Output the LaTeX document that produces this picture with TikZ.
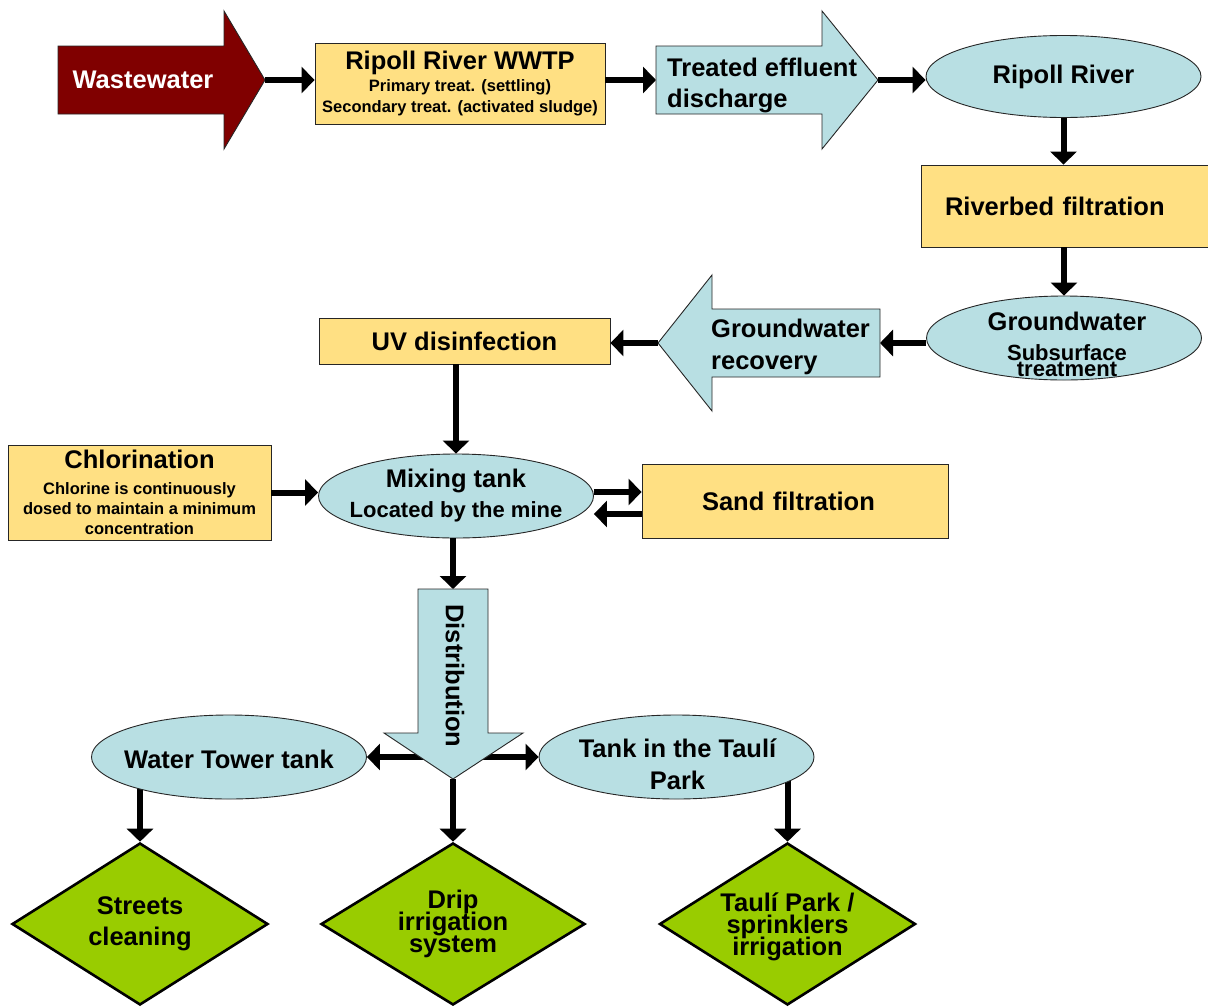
\documentclass[tikz,border=0pt]{standalone}
\usepackage{fontspec}
\setmainfont{Liberation Sans}
\usetikzlibrary{arrows.meta,shapes.geometric,backgrounds}
\definecolor{wasteRed}{RGB}{128,0,0}
\definecolor{waterBlue}{RGB}{184,223,227}
\definecolor{stepYellow}{RGB}{255,224,131}
\definecolor{useGreen}{RGB}{153,204,0}

\begin{document}
\lineskiplimit=-100pt
\begin{tikzpicture}[x=1pt, y=-1pt,
    box/.style={draw=black!85, line width=0.9pt, fill=stepYellow, align=center, inner sep=0pt,
                font=\fontsize{25.5}{30}\selectfont\bfseries},
    tank/.style={ellipse, draw=black!85, line width=0.9pt, fill=waterBlue, inner sep=0pt,
                 minimum width=275pt, minimum height=84pt},
    txt/.style={align=center, inner sep=0pt, font=\fontsize{25.5}{31}\selectfont\bfseries},
    flow/.style={draw=black!85, line width=0.9pt, fill=waterBlue},
    use/.style={diamond, aspect=1.58, draw, line width=2.6pt, fill=useGreen, inner sep=0pt,
                minimum width=256pt, minimum height=162pt, align=center,
                font=\fontsize{25.5}{22}\selectfont\bfseries},
    arr/.style={-{Triangle[length=13pt,width=26pt]}, line width=6pt}
]
\path[use as bounding box] (0,0) rectangle (1208,1007);

\draw[flow, fill=wasteRed] (58,46) -- (224,46) -- (224,11) -- (265,80) -- (224,149) -- (224,114) -- (58,114) -- cycle;
\coordinate (waste tip) at (265,80);
\node[txt, text=white] (waste text) at (143,80) {Wastewater};

\node[box, minimum width=290pt, minimum height=81pt, font=\fontsize{16.5}{21}\selectfont\bfseries] (wwtp) at (460,83.5)
    {{\fontsize{25.5}{30}\selectfont Ripoll River WWTP}\\[1pt] Primary treat. (settling)\\ Secondary treat. (activated sludge)};

\draw[flow] (656,46) -- (822,46) -- (822,11) -- (878,80) -- (822,149) -- (822,114) -- (656,114) -- cycle;
\coordinate (eff tail) at (656,80);
\coordinate (eff tip) at (878,80);
\node[txt, align=left, anchor=west] (eff text) at (667,85) {Treated effluent\\ discharge};

\node[tank, minimum height=82pt] (river) at (1063.5,76.5) {};
\node[txt] (river text) at (river) {Ripoll River};

\node[box, text width=252pt, align=left, inner xsep=24pt, minimum height=82pt] (bed) at (1071,206) {Riverbed filtration};

\node[tank] (gw) at (1064,338) {};
\node[txt, font=\fontsize{22}{16}\selectfont\bfseries] (gw text) at ([xshift=3pt,yshift=-6pt]gw.center)
    {{\fontsize{25.5}{30}\selectfont Groundwater}\\[14pt] Subsurface\\ treatment};

\draw[flow] (880,309) -- (712,309) -- (712,275) -- (658,343) -- (712,411) -- (712,377) -- (880,377) -- cycle;
\coordinate (rec tail) at (880,343);
\coordinate (rec tip) at (658,343);
\node[txt, align=left, anchor=west, font=\fontsize{25.5}{32}\selectfont\bfseries] (rec text) at (711,347) {Groundwater\\ recovery};

\node[box, minimum width=291pt, minimum height=46pt] (uv) at (464.5,341) {UV disinfection};

\node[tank] (mix) at (456,496) {};
\node[txt, font=\fontsize{22}{30}\selectfont\bfseries] (mix text) at (mix)
    {{\fontsize{25.5}{30}\selectfont Mixing tank}\\ Located by the mine};

\node[box, minimum width=263pt, minimum height=95pt, font=\fontsize{16.5}{20}\selectfont\bfseries] (chl) at (139.5,492.5)
    {{\fontsize{25.5}{30}\selectfont Chlorination}\\[6pt] Chlorine is continuously\\ dosed to maintain a minimum\\ concentration};

\node[box, text width=186pt, align=left, inner xsep=60pt, minimum height=74pt] (sand) at (795,501) {Sand filtration};

\draw[flow] (418,589) -- (488,589) -- (488,733) -- (523,733) -- (453,779) -- (384,733) -- (418,733) -- cycle;
\coordinate (dist tail) at (453,589);
\coordinate (dist tip) at (453,779);
\node[txt, rotate=-90] (dist text) at (455,676) {Distribution};

\node[tank] (tower) at (229,757) {};
\node[txt] (tower text) at ([yshift=-2pt]tower.center) {Water Tower tank};

\node[tank] (park) at (676.5,757) {};
\node[txt, font=\fontsize{25.5}{32}\selectfont\bfseries] (park text) at ([xshift=1pt,yshift=-7pt]park.center) {Tank in the Taulí\\ Park};

\node[use, font=\fontsize{25.5}{31}\selectfont\bfseries] (streets) at (140,924) {Streets\\ cleaning};
\node[use, minimum width=264pt] (drip) at (453,924) {Drip\\ irrigation\\ system};
\node[use] (parkuse) at (787.5,924) {\rule{0pt}{24pt}Taulí Park /\\ sprinklers\\ irrigation};

\draw[arr] (waste tip) -- (waste tip -| wwtp.west);
\draw[arr] (wwtp.east |- eff tail) -- (eff tail);
\draw[arr] (eff tip) -- (eff tip -| river.west);
\draw[arr] (river.south) -- (river.south |- bed.north);
\draw[arr] (bed.south -| gw.north) -- (gw.north);
\draw[arr] (gw.west |- rec tail) -- (rec tail);
\draw[arr] (rec tip) -- (rec tip -| uv.east);
\draw[arr] (uv.south -| mix.north) -- (mix.north);
\draw[arr] (chl.east) -- (chl.east -| mix.west);
\draw[arr] ([yshift=4pt]mix.east) -- ([yshift=4pt]mix.east -| sand.west);
\draw[arr] ([yshift=-13pt]sand.west) -- ([yshift=-13pt]sand.west -| mix.east);
\draw[arr] (mix.south -| dist tail) -- (dist tail);
\draw[arr] (dist tip) -- (drip.north);

\begin{scope}[on background layer]
\fill[white] (0,0) rectangle (1208,1007);
\draw[arr] (dist tip |- tower.east) -- (tower.east);
\draw[arr] (dist tip |- park.west) -- (park.west);
\draw[arr] (streets.north |- tower.center) -- (streets.north);
\draw[arr] (parkuse.north |- park.center) -- (parkuse.north);
\end{scope}
\end{tikzpicture}
\end{document}
